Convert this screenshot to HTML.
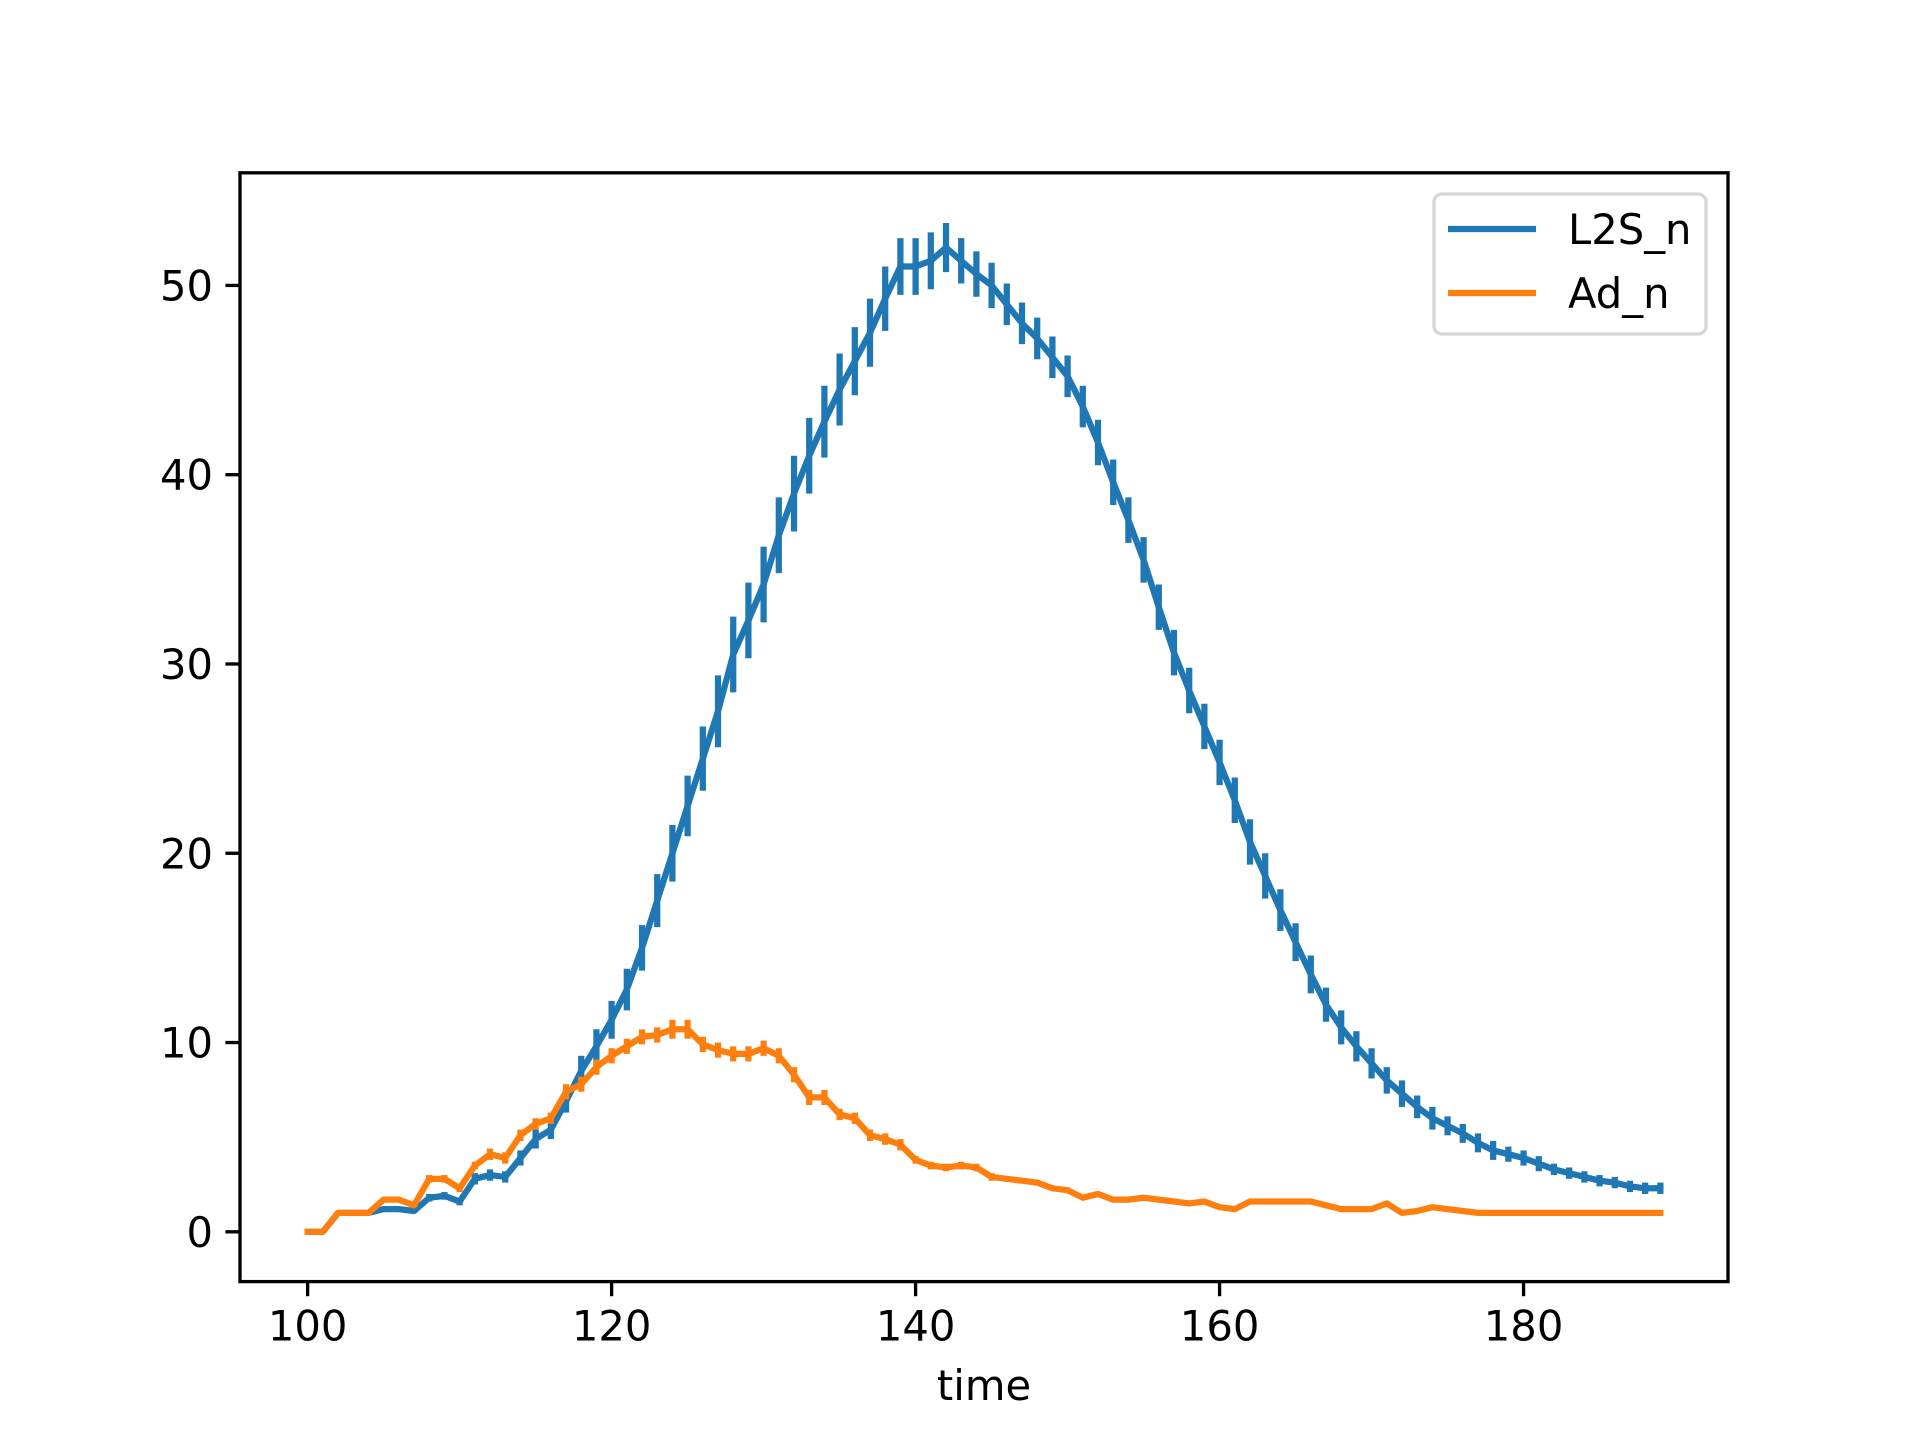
<!DOCTYPE html>
<html><head><meta charset="utf-8"><style>
html,body{margin:0;padding:0;background:#fff;}
svg{display:block;font-family:"DejaVu Sans","Liberation Sans",sans-serif;}
</style></head><body>
<svg id="chart" width="1920" height="1440" viewBox="0 0 1920 1440" xmlns="http://www.w3.org/2000/svg">
<rect width="1920" height="1440" fill="#fff"/>
<g id="series"></g>
<g id="axes"></g>
</svg>
<script>
const times = [];
for (let t = 100; t <= 189; t++) times.push(t);
const l2sValues = [0,0,1,1,1,1.2,1.2,1.1,1.8,1.9,1.6,2.8,3.0,2.9,3.9,4.9,5.4,6.9,8.5,9.8,
11.2,12.8,15.0,17.5,20.0,22.5,25.0,27.5,30.5,32.3,34.2,36.8,39.0,41.0,42.8,44.5,46.0,47.5,49.3,51.0,
51.0,51.3,52.0,51.3,50.6,50.0,49.0,48.0,47.2,46.2,45.2,43.6,41.7,39.6,37.6,35.5,33.0,30.6,28.6,26.7,
24.8,22.8,20.6,18.8,17.0,15.3,13.6,12.0,10.8,9.8,8.9,8.0,7.3,6.6,6.0,5.6,5.2,4.7,4.3,4.1,
3.9,3.6,3.3,3.1,2.9,2.7,2.6,2.4,2.3,2.3];
const l2sErrors = [0,0,0,0,0,0.1,0.1,0.1,0.2,0.2,0.2,0.3,0.3,0.3,0.4,0.5,0.5,0.6,0.8,0.9,
1.0,1.1,1.2,1.4,1.5,1.6,1.7,1.9,2.0,2.0,2.0,2.0,2.0,2.0,1.9,1.9,1.8,1.8,1.7,1.5,
1.5,1.5,1.3,1.2,1.2,1.2,1.1,1.1,1.1,1.1,1.1,1.1,1.2,1.2,1.2,1.2,1.2,1.2,1.2,1.2,
1.2,1.2,1.2,1.2,1.1,1.0,1.0,0.9,0.9,0.8,0.8,0.7,0.7,0.6,0.6,0.5,0.5,0.5,0.5,0.4,
0.4,0.4,0.3,0.3,0.3,0.3,0.3,0.3,0.3,0.3];
const adValues = [0,0,1,1,1,1.7,1.7,1.4,2.8,2.8,2.3,3.5,4.1,3.9,5.1,5.7,6.0,7.4,7.8,8.7,
9.3,9.8,10.3,10.4,10.7,10.7,9.9,9.6,9.4,9.4,9.7,9.3,8.3,7.1,7.1,6.2,6.0,5.1,4.9,4.6,
3.8,3.5,3.4,3.5,3.4,2.9,2.8,2.7,2.6,2.3,2.2,1.8,2.0,1.7,1.7,1.8,1.7,1.6,1.5,1.6,
1.3,1.2,1.6,1.6,1.6,1.6,1.6,1.4,1.2,1.2,1.2,1.5,1.0,1.1,1.3,1.2,1.1,1.0,1.0,1.0,
1.0,1.0,1.0,1.0,1.0,1.0,1.0,1.0,1.0,1.0];
const adErrors = [0,0,0,0,0,0.1,0.1,0.1,0.2,0.2,0.2,0.2,0.3,0.3,0.3,0.3,0.3,0.4,0.4,0.4,
0.4,0.4,0.4,0.4,0.5,0.5,0.4,0.4,0.4,0.4,0.4,0.4,0.4,0.4,0.4,0.3,0.3,0.3,0.3,0.3,
0.2,0.2,0.2,0.2,0.2,0.2,0.1,0.1,0.1,0.1,0.1,0.1,0.1,0.1,0.1,0.1,0.1,0.1,0.1,0.1,
0.1,0.1,0.1,0.1,0.1,0.1,0.1,0.1,0.1,0.1,0.1,0.1,0.1,0.1,0.1,0.1,0.1,0,0,0,
0,0,0,0,0,0,0,0,0,0];
const xTicks = [100,120,140,160,180];
const yTicks = [0,10,20,30,40,50];

const L=240,R=1728,T=172.8,B=1281.6;
const xmin=95.55,xmax=193.45,ymin=-2.63,ymax=55.95;
const xs=v=>L+(v-xmin)/(xmax-xmin)*(R-L);
const ys=v=>B-(v-ymin)/(ymax-ymin)*(B-T);
const NS='http://www.w3.org/2000/svg';
function mk(tag,attrs,parent){const e=document.createElementNS(NS,tag);for(const k in attrs)e.setAttribute(k,attrs[k]);parent.appendChild(e);return e;}
const series=document.getElementById('series');
const axes=document.getElementById('axes');

function drawSeries(vals,errs,color,name){
  const g=mk('g',{},series);
  
  
  let d='';
  vals.forEach((v,i)=>{d+=(i?'L':'M')+xs(times[i]).toFixed(2)+','+ys(v).toFixed(2);});
  const p=mk('path',{d:d,fill:'none',stroke:color,'stroke-width':6.25,'stroke-linejoin':'round','stroke-linecap':'square'},g);
  
  
  vals.forEach((v,i)=>{
    if(errs[i]<=0)return;
    const e=mk('line',{x1:xs(times[i]),x2:xs(times[i]),y1:ys(v-errs[i]),y2:ys(v+errs[i]),stroke:color,'stroke-width':6.25},g);
    
    
  });
}
drawSeries(l2sValues,l2sErrors,'#1f77b4','l2s-n');
drawSeries(adValues,adErrors,'#ff7f0e','ad-n');

// frame
const fr=mk('rect',{x:L,y:T,width:R-L,height:B-T,fill:'none',stroke:'#000','stroke-width':3.33},axes);


xTicks.forEach(t=>{
  const x=xs(t);
  const tk=mk('line',{x1:x,x2:x,y1:B,y2:B+14.6,stroke:'#000','stroke-width':3.33},axes);
  
  
  const tx=mk('text',{x:x,y:B+59,'font-size':41.7,'text-anchor':'middle',fill:'#000'},axes);
  tx.textContent=t;
  
  
});
yTicks.forEach(t=>{
  const y=ys(t);
  const tk=mk('line',{x1:L-14.6,x2:L,y1:y,y2:y,stroke:'#000','stroke-width':3.33},axes);
  
  
  const tx=mk('text',{x:L-27,y:y+15,'font-size':41.7,'text-anchor':'end',fill:'#000'},axes);
  tx.textContent=t;
  
  
});
const xt=mk('text',{x:(L+R)/2,y:1400,'font-size':41.7,'text-anchor':'middle',fill:'#000'},axes);
xt.textContent='time';



// legend
const lg=mk('g',{},axes);


mk('rect',{x:1434,y:194,width:272,height:140,rx:8,fill:'#fff','fill-opacity':0.8,stroke:'#d6d6d6','stroke-width':3.33},lg);
[['L2S_n','#1f77b4',229],['Ad_n','#ff7f0e',293]].forEach(([lab,c,y])=>{
  const e=mk('g',{},lg);
  
  
  mk('line',{x1:1448,x2:1536,y1:y,y2:y,stroke:c,'stroke-width':6.25},e);
  const t=mk('text',{x:1568,y:y+15,'font-size':41.7,fill:'#000'},e);
  t.textContent=lab;
});
</script>
</body></html>
